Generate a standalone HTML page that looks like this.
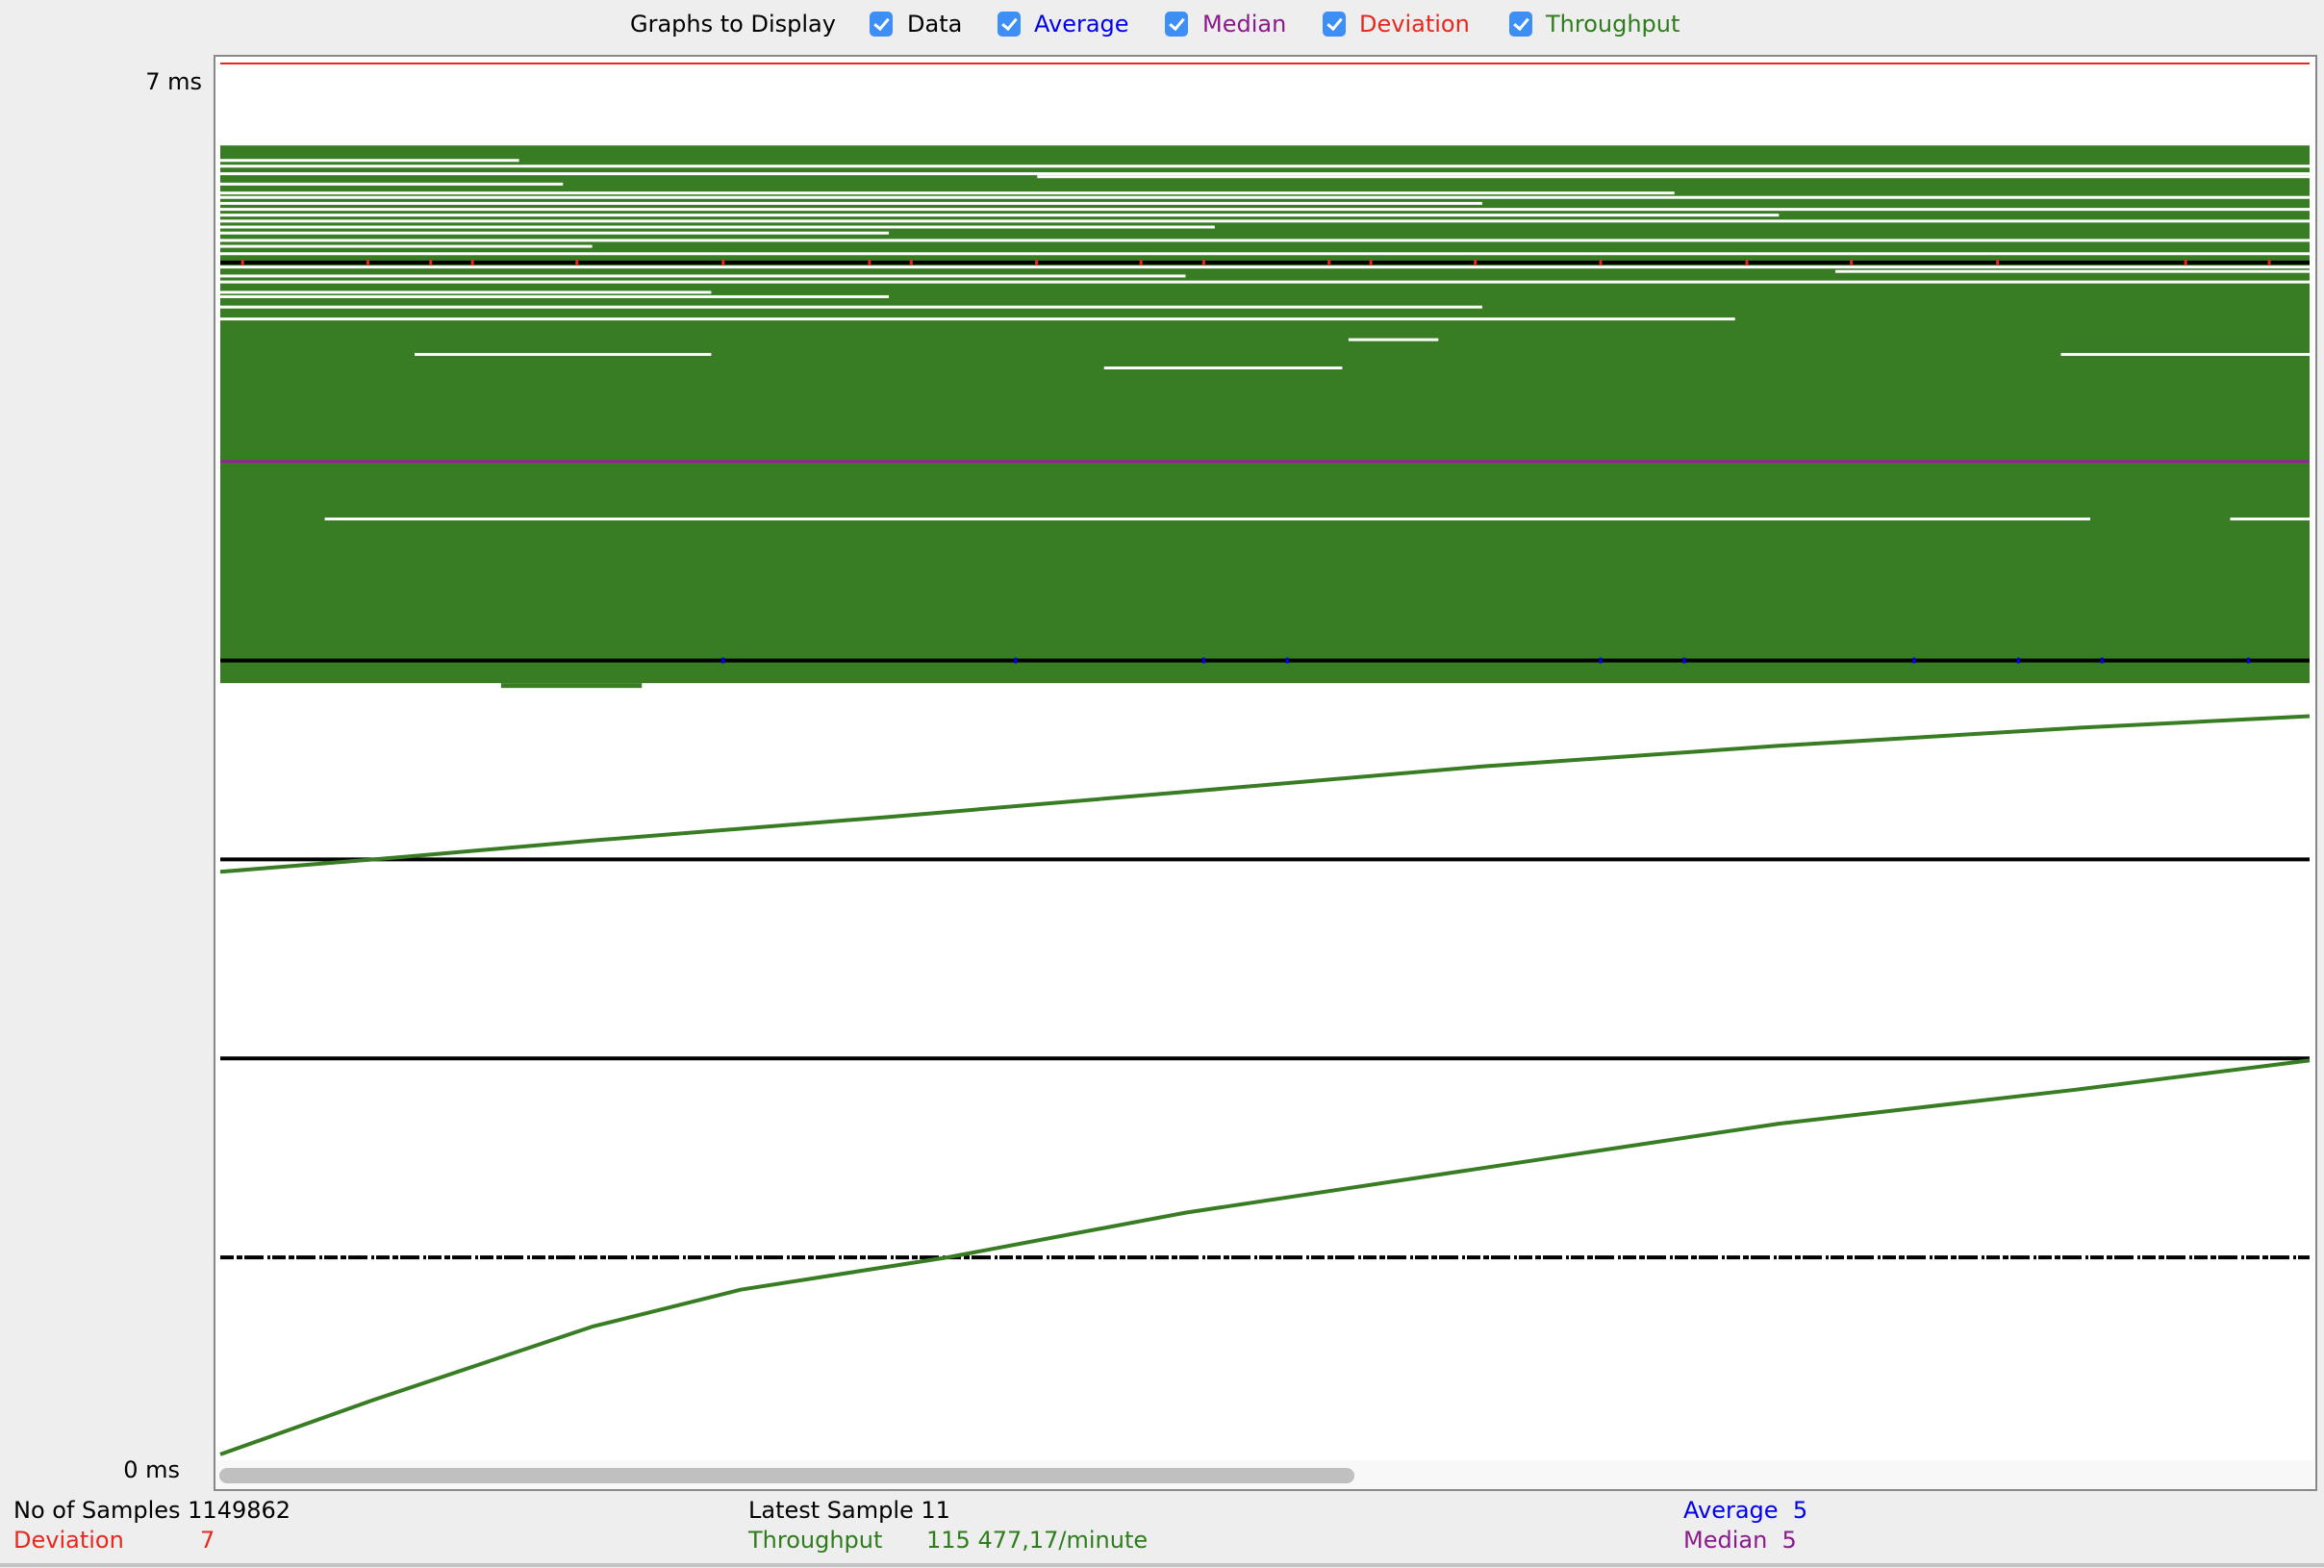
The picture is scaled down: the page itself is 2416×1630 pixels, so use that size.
<!DOCTYPE html>
<html><head><meta charset="utf-8"><style>
body{margin:0;width:2416px;height:1630px;background:#eeeeee;font-family:"DejaVu Sans","Liberation Sans",sans-serif;position:relative;overflow:hidden}
.t{position:absolute;font-size:24px;white-space:nowrap;line-height:1}
.cb{position:absolute;width:24px;height:26px;border-radius:5px;background:#3d8ef5;top:12px}
.cb:after{content:"";position:absolute;left:8px;top:4px;width:6px;height:12px;border:solid #fff;border-width:0 3px 3px 0;transform:rotate(40deg)}
</style></head><body>
<div class="t" style="left:655px;top:13px">Graphs to Display</div>
<div class="cb" style="left:904px"></div><div class="t" style="left:943px;top:13px">Data</div>
<div class="cb" style="left:1037px"></div><div class="t" style="left:1075px;top:13px;color:#0000ee">Average</div>
<div class="cb" style="left:1211px"></div><div class="t" style="left:1250px;top:13px;color:#8b1a8b">Median</div>
<div class="cb" style="left:1375px"></div><div class="t" style="left:1413px;top:13px;color:#e8281e">Deviation</div>
<div class="cb" style="left:1569px"></div><div class="t" style="left:1607px;top:13px;color:#2e7d1c">Throughput</div>

<svg id="chart" width="2416" height="1630" style="position:absolute;left:0;top:0">
<rect x="223" y="58" width="2185" height="1491" fill="#fff" stroke="#888" stroke-width="2"/>
<rect x="224" y="1518" width="2182" height="30" fill="#f8f8f8"/>
<rect x="228" y="1526" width="1180" height="16" rx="8" fill="#c0c0c0"/>
<text x="210" y="93" text-anchor="end" font-size="24" font-family="DejaVu Sans, Liberation Sans, sans-serif">7  ms</text>
<text x="187" y="1536" text-anchor="end" font-size="24" font-family="DejaVu Sans, Liberation Sans, sans-serif">0  ms</text>
<g id="marks"></g>
</svg>

<div class="t" style="left:14px;top:1558px">No of Samples&nbsp;1149862</div>
<div class="t" style="left:14px;top:1589px;color:#e8281e">Deviation</div>
<div class="t" style="left:208px;top:1589px;color:#e8281e">7</div>
<div class="t" style="left:778px;top:1558px">Latest Sample&nbsp;11</div>
<div class="t" style="left:778px;top:1589px;color:#2e7d1c">Throughput</div>
<div class="t" style="left:963px;top:1589px;color:#2e7d1c">115 477,17/minute</div>
<div class="t" style="left:1750px;top:1558px;color:#0000ee">Average&nbsp;&nbsp;5</div>
<div class="t" style="left:1750px;top:1589px;color:#8b1a8b">Median&nbsp;&nbsp;5</div>
<div style="position:absolute;left:0;top:1625px;width:2416px;height:4px;background:#c4c4c4"></div>

<script>
const blockRange=[3.886,6.588];
const gapLevels=[6.513,6.484,6.446,6.431,6.394,6.349,6.327,6.297,6.267,6.238,6.208,6.178,6.148,6.111,6.081,6.044,5.977,5.955,5.932,5.902,5.850,5.828,5.776,5.716,5.612,5.538,5.538,5.470,4.711,4.711];
const gapStart=[0,0,0,0.391,0,0,0,0,0,0,0,0,0,0,0,0,0,0.773,0,0,0,0,0,0,0.54,0.093,0.881,0.423,0.05,0.962];
const gapEnd=[0.143,1,1,1,0.164,0.696,1,0.604,1,0.746,1,0.476,0.32,1,0.178,1,1,1,0.462,1,0.235,0.32,0.604,0.725,0.583,0.235,1,0.537,0.895,1];
const refLevels=[6,4,3,2];
const deviation=7, median=5, dashedLevel=1;
const upX=[0,0.079,0.178,0.32,0.462,0.604,0.746,0.888,1];
const tpUpper=[2.938,3.005,3.095,3.214,3.340,3.467,3.571,3.661,3.72];
const loX=[0,0.072,0.178,0.249,0.348,0.462,0.604,0.746,0.888,1];
const tpLower=[0.01,0.279,0.652,0.838,1.0,1.225,1.449,1.672,1.843,1.99];
const redTicks=[0.01,0.07,0.1,0.12,0.17,0.24,0.31,0.33,0.39,0.44,0.47,0.53,0.55,0.6,0.66,0.73,0.78,0.85,0.94,0.98];
const blueTicks=[0.24,0.38,0.47,0.51,0.66,0.7,0.81,0.86,0.9,0.97];

const X0=229,X1=2401,Y0=1514,Y7=66;
const xs=f=>X0+f*(X1-X0);
const ys=v=>Y0-v*(Y0-Y7)/7;
const g=document.getElementById('marks');
const NS='http://www.w3.org/2000/svg';
function mk(tag,attrs){const e=document.createElementNS(NS,tag);for(const k in attrs)e.setAttribute(k,attrs[k]);g.appendChild(e);return e;}

let e=mk('rect',{x:xs(0),y:ys(blockRange[1]),width:xs(1)-xs(0),height:ys(blockRange[0])-ys(blockRange[1]),fill:'#387d23'});


e=mk('rect',{x:338*1.541,y:ys(blockRange[0]),width:95*1.541,height:5,fill:'#387d23'});


gapLevels.forEach((v,i)=>{
  const r=mk('rect',{x:xs(gapStart[i]),y:ys(v)-1.5,width:xs(gapEnd[i])-xs(gapStart[i]),height:3,fill:'#fff'});
  
  
});
e=mk('line',{x1:xs(0),x2:xs(1),y1:ys(deviation),y2:ys(deviation),stroke:'#e8281e','stroke-width':2});


e=mk('line',{x1:xs(0),x2:xs(1),y1:ys(median),y2:ys(median),stroke:'#9a1fa0','stroke-width':3});


refLevels.forEach(v=>{
  const l=mk('line',{x1:xs(0),x2:xs(1),y1:ys(v),y2:ys(v),stroke:'#000','stroke-width':4});
  
  
});
e=mk('line',{x1:xs(0),x2:xs(1),y1:ys(dashedLevel),y2:ys(dashedLevel),stroke:'#000','stroke-width':4,'stroke-dasharray':'14 3 6 2 20 4 3 2'});


redTicks.forEach(f=>{
  const r=mk('rect',{x:xs(f),y:ys(6)-3,width:3,height:6,fill:'#e8281e'});
  
  
});
blueTicks.forEach(f=>{
  const r=mk('rect',{x:xs(f),y:ys(4)-3,width:3,height:6,fill:'#0000ee'});
  
  
});
function curve(xa,arr,name){
  let d='';
  for(let i=0;i<xa.length;i++){
    d+=(i===0?'M':' L')+xs(xa[i]).toFixed(1)+' '+ys(arr[i]).toFixed(1);
  }
  const p=mk('path',{d:d,fill:'none',stroke:'#387d23','stroke-width':4,'stroke-linejoin':'round'});
  
  
}
curve(upX,tpUpper,'throughput-line-upper');
curve(loX,tpLower,'throughput-line-lower');
</script>
</body></html>
